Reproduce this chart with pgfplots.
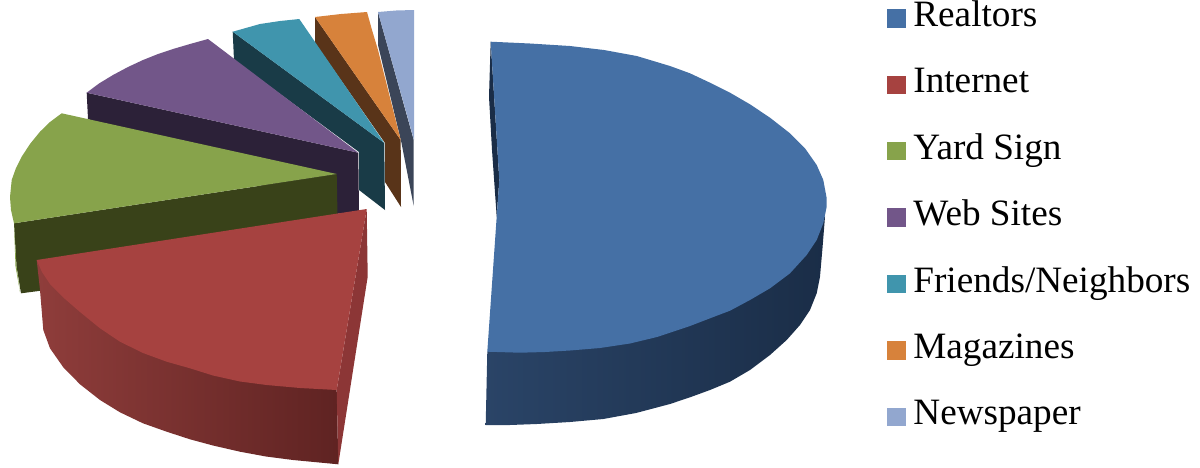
\documentclass[border=0pt]{standalone}
\usepackage{pgfplots}
\pgfplotsset{compat=1.18}
\usepackage{fontspec}
\setmainfont{Liberation Serif}
\definecolor{cBlue}{HTML}{4570A5}
\definecolor{cRed}{HTML}{A64240}
\definecolor{cGreen}{HTML}{87A34B}
\definecolor{cPurple}{HTML}{725689}
\definecolor{cTeal}{HTML}{4095AD}
\definecolor{cOrange}{HTML}{D7823B}
\definecolor{cLight}{HTML}{92A7CF}
\definecolor{dBlue}{HTML}{1A2D47}
\definecolor{dBlueL}{HTML}{2A4467}
\definecolor{dRedL}{HTML}{8F3D3B}
\definecolor{dRed}{HTML}{5F2322}
\definecolor{dRedF}{HTML}{8C3636}
\definecolor{dGreen}{HTML}{394219}
\definecolor{dPurple}{HTML}{2C2138}
\definecolor{dTeal}{HTML}{193B47}
\definecolor{dOrange}{HTML}{593419}
\definecolor{dLight}{HTML}{3B4558}
\pgfplotsset{sq/.style={legend image code/.code={\path[draw=none,fill=none] (0pt,0pt) rectangle (13pt,1pt);\fill[#1,draw=none] (0pt,-4.6pt) rectangle (9.5pt,4.6pt);}}}
\begin{document}
\begin{tikzpicture}
\path[use as bounding box] (0,0) rectangle (600pt,233.5pt);
\begin{axis}[
  at={(0,0)},anchor=south west,
  scale only axis,width=600pt,height=233.5pt,
  xmin=0,xmax=1200,ymin=0,ymax=467,y dir=reverse,
  hide axis,clip=false,
  legend style={at={(axis cs:887,0)},anchor=north west,draw=none,fill=none,inner sep=0pt,
    row sep=15.2pt,font=\fontsize{18.6}{22}\selectfont,
    nodes={inner sep=0pt,text height=13pt,text depth=5pt}},
  legend cell align=left,
]
% Newspaper
\addplot[fill=dLight,draw=none,forget plot] coordinates {(378,12)(413.7,140)(413.7,206)(401.5,143)(378,45)} --cycle;
\addplot[fill=cLight,draw=none,forget plot] coordinates {(378,12)(396,10.5)(414,10)(414,140)} --cycle;
% Magazines
\addplot[fill=dOrange,draw=none,forget plot] coordinates {(315,17)(400.7,140)(401,207)(385,182)(385,143)(315,43)} --cycle;
\addplot[fill=cOrange,draw=none,forget plot] coordinates {(315,17)(341,14)(367,12)(372,30)(378,50)(400.7,140)} --cycle;
% Friends
\addplot[fill=dTeal,draw=none,forget plot] coordinates {(232.7,31.7)(384.3,143)(385,210)(359,190)(359,152)(234,60)} --cycle;
\addplot[fill=cTeal,draw=none,forget plot] coordinates {(232.7,31.7)(260,24)(280,21)(299.3,19)(384.3,143)} --cycle;
% Web sites
\addplot[fill=dPurple,draw=none,forget plot] coordinates {(86.7,92.7)(358.3,152.7)(359,212)(335,214)(88,119)} --cycle;
\addplot[fill=cPurple,draw=none,forget plot] coordinates {(86.7,92.7)(99,83.5)(113,75)(128,67)(143,60)(158,54)(173,49)(190,44)(208,39)(358.3,152.7)} --cycle;
% Yard sign
\addplot[fill=dGreen,draw=none,forget plot] coordinates {(14,223.3)(16.5,266)(21,293.3)(100,283)(338,240)(336.7,174)} --cycle;
\addplot[fill=cGreen,draw=none,forget plot] coordinates {(14,223.3)(15.5,266)(20,292)(16.5,266)} --cycle;
\addplot[fill=cGreen,draw=none,forget plot] coordinates {(61.7,113.3)(50,122)(40,131.7)(30,144)(21.7,156.7)(16,168)(11.7,180)(10,197)(11,210)(14,223.3)(336.7,174)} --cycle;
% Internet
\addplot[left color=dRedL,right color=dRed,draw=none,forget plot] coordinates {(36.7,260)(40,290)(43.3,330)(50,348.3)(63.3,367.3)(80,384.3)(100,400)(120,412.3)(143,423.3)(166.7,431.7)(190,439.3)(213,445.5)(240,451.7)(266,456.5)(293,460)(338.3,464.3)(336.7,390)(200,340)} --cycle;
\addplot[fill=dRedF,draw=none,forget plot] coordinates {(366.7,209)(367.7,276.7)(338.3,464.3)(336.7,390)} --cycle;
\addplot[fill=cRed,draw=none,forget plot] coordinates {(36.7,260)(42,272)(50,284)(63.3,297.5)(80,312)(100,328.3)(120,341.7)(143,353)(166.7,361.7)(190,368.3)(213,375.5)(240,381.5)(266.7,385)(300,388)(336.7,390)(366.7,209)} --cycle;
% Realtors
\addplot[left color=dBlueL,middle color=dBlue,right color=dBlue,draw=none,forget plot] coordinates {(487.3,351.7)(485.7,425)(510,425)(536.7,424)(570,422)(603.3,419)(636,413)(670,404)(690,397.3)(710,390)(730,381.7)(750,370)(770,355)(786.7,340)(800,325)(810,310)(816.7,293.3)(820,276.7)(822.5,248)(825,216.7)(700,200)} --cycle;
\addplot[fill=dBlue,draw=none,forget plot] coordinates {(490.7,41.7)(489,96.7)(492,150)(496.7,216.7)(499.3,180)} --cycle;
\addplot[fill=cBlue,draw=none,forget plot] coordinates {(490.7,41.7)(530,43.5)(570,46)(604,50)(636.7,56)(670,66)(690,73.3)(710,82.7)(730,92.7)(750,104.3)(770,117.7)(790,133.3)(805,148.3)(816.7,165)(823.3,180)(826.7,198.3)(826.7,206.7)(823.3,223.3)(816.7,240)(806.7,255)(790,273.3)(770,288.3)(750,300)(730,310.7)(710,318.3)(690,326)(657,337)(630,343.5)(600,348)(570,350.5)(545,352)(520,352.7)(487.3,351.7)(496.7,216.7)(499.3,180)} --cycle;
% Legend
\addlegendimage{sq=cBlue}\addlegendentry{Realtors}
\addlegendimage{sq=cRed}\addlegendentry{Internet}
\addlegendimage{sq=cGreen}\addlegendentry{Yard Sign}
\addlegendimage{sq=cPurple}\addlegendentry{Web Sites}
\addlegendimage{sq=cTeal}\addlegendentry{Friends/Neighbors}
\addlegendimage{sq=cOrange}\addlegendentry{Magazines}
\addlegendimage{sq=cLight}\addlegendentry{Newspaper}
\end{axis}
\end{tikzpicture}
\end{document}
